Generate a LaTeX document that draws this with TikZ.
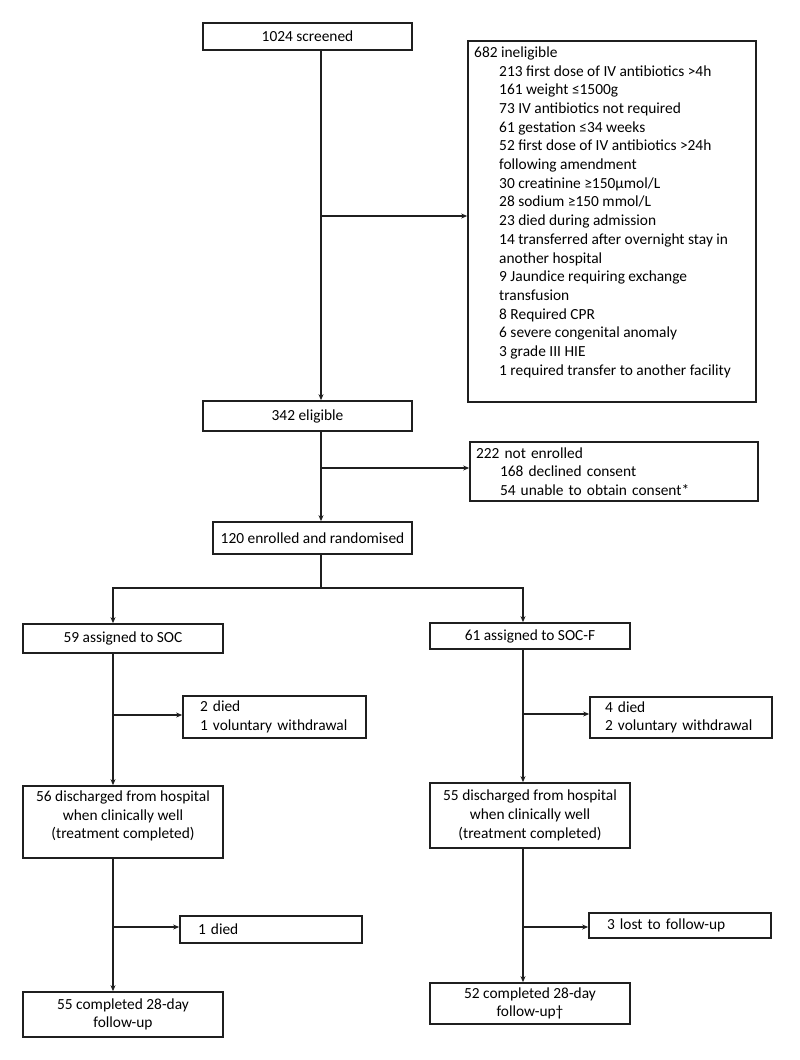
\documentclass[tikz,border=0pt]{standalone}
\usepackage{fontspec}
\setmainfont{Carlito}
\usetikzlibrary{arrows.meta}
\newcommand\fsz{\fontsize{15.4pt}{18.7pt}\selectfont}
\tikzset{
  box/.style={draw=black!88, line width=1.7pt, inner sep=0pt, align=center, font=\fsz},
  sidebox/.style={draw=black!88, line width=1.7pt, inner ysep=0pt, align=left, font=\fsz},
  txt/.style={inner sep=0pt, font=\fsz},
  conn/.style={draw=black!88, line width=1.3pt},
  arr/.style={conn, -{Stealth[length=6pt,width=5pt]}},
}
\begin{document}
\begin{tikzpicture}[x=1pt,y=-1pt]
\useasboundingbox (0,0) rectangle (800,1060);
\fill[white] (0,0) rectangle (800,1060);

% main column
\node[box, minimum width=209pt, minimum height=27pt] (screened) at (307.5,36.5) {1024 screened};
\node[box, minimum width=209pt, minimum height=30pt] (eligible) at (307.5,416) {342 eligible};
\node[box, minimum width=199pt, minimum height=32pt] (enrolled) at (312.5,538) {120 enrolled and randomised};

% exclusion boxes
\node[sidebox, minimum width=288pt, minimum height=361pt, inner xsep=0pt] (inel) at (612,221.5) {};
\node[txt, anchor=north west, align=left] (ineltxt) at (474,46.5) {682 ineligible\\
\hspace*{25pt}213 first dose of IV antibiotics >4h\\
\hspace*{25pt}161 weight ≤1500g\\
\hspace*{25pt}73 IV antibiotics not required\\
\hspace*{25pt}61 gestation ≤34 weeks\\
\hspace*{25pt}52 first dose of IV antibiotics >24h\\
\hspace*{25pt}following amendment\\
\hspace*{25pt}30 creatinine ≥150µmol/L\\
\hspace*{25pt}28 sodium ≥150 mmol/L\\
\hspace*{25pt}23 died during admission\\
\hspace*{25pt}14 transferred after overnight stay in\\
\hspace*{25pt}another hospital\\
\hspace*{25pt}9 Jaundice requiring exchange\\
\hspace*{25pt}transfusion\\
\hspace*{25pt}8 Required CPR\\
\hspace*{25pt}6 severe congenital anomaly\\
\hspace*{25pt}3 grade III HIE\\
\hspace*{25pt}1 required transfer to another facility};

\node[sidebox, minimum width=288pt, minimum height=59pt, inner xsep=6pt, text width=276pt] (notenr) at (614,471.5) {222 not enrolled\\
\hspace*{24pt}168 declined consent\\
\hspace*{24pt}54 unable to obtain consent*};

% arms
\node[box, minimum width=200pt, minimum height=29pt] (soc) at (123,638.5) {59 assigned to SOC};
\node[box, minimum width=200pt, minimum height=26pt] (socf) at (530,636) {61 assigned to SOC-F};

\node[sidebox, minimum width=183pt, minimum height=42pt, inner xsep=17pt, text width=149pt] (died1) at (274.5,717) {2 died\\1 voluntary withdrawal};
\node[sidebox, minimum width=182pt, minimum height=41pt, inner xsep=15pt, text width=152pt] (died2) at (681,717.5) {4 died\\2 voluntary withdrawal};

\node[box, minimum width=200pt, minimum height=72pt] (dis1) at (123,822) {};
\node[txt, align=center] (dis1txt) at (123,816) {56 discharged from hospital\\when clinically well\\(treatment completed)};
\node[box, minimum width=200pt, minimum height=65pt] (dis2) at (530,815.5) {55 discharged from hospital\\when clinically well\\(treatment completed)};

\node[sidebox, minimum width=182pt, minimum height=27pt, inner xsep=18pt, text width=146pt] (died3) at (271,929.5) {1 died};
\node[sidebox, minimum width=182pt, minimum height=25pt, inner xsep=18pt, text width=146pt] (lost) at (680,925.5) {3 lost to follow-up};

\node[box, minimum width=200pt, minimum height=45pt] (comp1) at (123,1014.5) {55 completed 28-day\\follow-up};
\node[box, minimum width=200pt, minimum height=41pt] (comp2) at (530,1003.5) {52 completed 28-day\\follow-up†};

% connector guide coordinates
\coordinate (tr) at (321,0);
\coordinate (lt) at (113,0);
\coordinate (rt) at (523,0);
\coordinate (b1) at (321,216);
\coordinate (b2) at (321,468);
\coordinate (sp) at (321,588);
\coordinate (b3) at (113,715);
\coordinate (b4) at (523,714);
\coordinate (b5) at (113,927);
\coordinate (b6) at (523,927);

% connectors
\draw[arr] (screened.south -| tr) -- (eligible.north -| tr);
\draw[arr] (b1) -- (b1 -| inel.west);
\draw[arr] (eligible.south -| tr) -- (enrolled.north -| tr);
\draw[arr] (b2) -- (b2 -| notenr.west);
\draw[conn] (enrolled.south -| tr) -- (sp);
\draw[arr] (sp) -- (sp -| lt) -- (soc.north -| lt);
\draw[arr] (sp) -- (sp -| rt) -- (socf.north -| rt);
\draw[arr] (soc.south -| lt) -- (dis1.north -| lt);
\draw[arr] (b3) -- (b3 -| died1.west);
\draw[arr] (socf.south -| rt) -- (dis2.north -| rt);
\draw[arr] (b4) -- (b4 -| died2.west);
\draw[arr] (dis1.south -| lt) -- (comp1.north -| lt);
\draw[arr] (b5) -- (b5 -| died3.west);
\draw[arr] (dis2.south -| rt) -- (comp2.north -| rt);
\draw[arr] (b6) -- (b6 -| lost.west);
\end{tikzpicture}
\end{document}
